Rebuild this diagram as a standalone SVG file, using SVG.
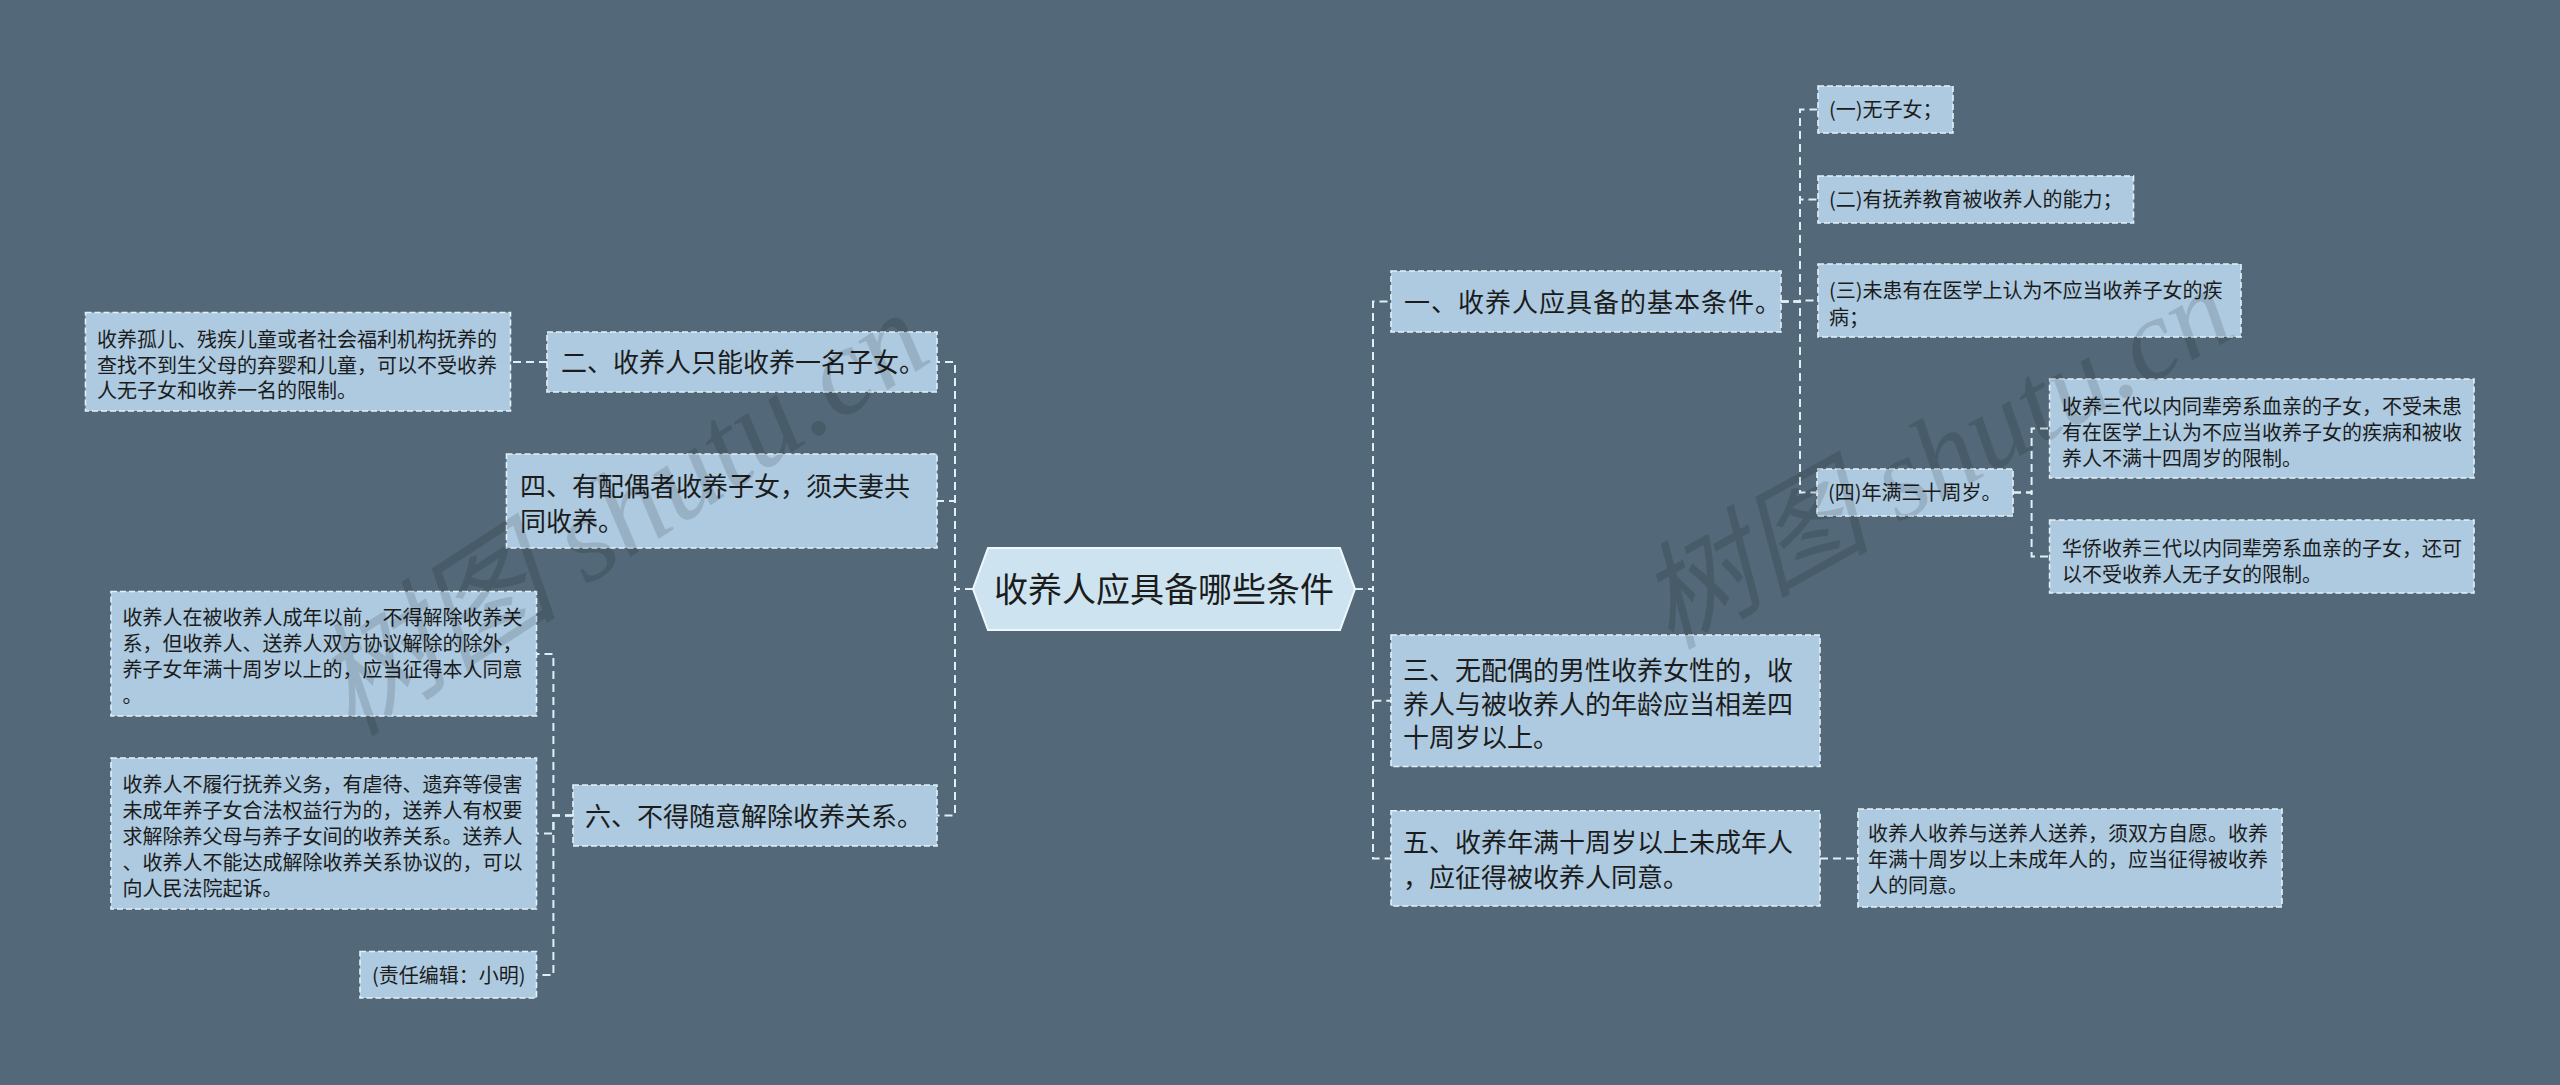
<svg xmlns="http://www.w3.org/2000/svg" width="2560" height="1085" viewBox="0 0 2560 1085">
<style>
.bg{fill:#536979}
.node{fill:#adcae0;stroke:#e4f1f8;stroke-width:1.6;stroke-dasharray:6 3}
.hex{fill:#cde4f0;stroke:#eef7fb;stroke-width:2}
.t{font-family:"Noto Sans CJK SC","Noto Sans",sans-serif;fill:#1c1c1c}
.t26{font-size:26px}
.t20{font-size:20px}
.t34{font-size:34px}
.conn path{fill:none;stroke:#e2eff6;stroke-width:2;stroke-dasharray:8 5}
.wm{font-family:"Liberation Serif","Noto Sans CJK SC",serif;font-style:italic;fill:#000;opacity:0.12}
</style>
<rect class="bg" x="0" y="0" width="2560" height="1085"/>

<g id="connectors" class="conn">
<path d="M973,589 H955 V362 H937"/>
<path d="M973,589 H955 V501 H937"/>
<path d="M973,589 H955 V815.5 H937"/>
<path d="M547,362 H510.5"/>
<path d="M573,815.5 H553.4 V654 H536.5"/>
<path d="M573,815.5 H553.4 V833.5 H536.5"/>
<path d="M573,815.5 H553.4 V975 H536.5"/>
<path d="M1355,589 H1373 V301.5 H1391"/>
<path d="M1355,589 H1373 V700.7 H1391"/>
<path d="M1355,589 H1373 V858.4 H1391"/>
<path d="M1780.5,301.5 H1800 V109.5 H1818"/>
<path d="M1780.5,301.5 H1800 V199.5 H1818"/>
<path d="M1780.5,301.5 H1800 V300.5 H1818"/>
<path d="M1780.5,301.5 H1800 V492.5 H1817"/>
<path d="M2013,492.5 H2031.6 V428.5 H2049.6"/>
<path d="M2013,492.5 H2031.6 V556.5 H2049.6"/>
<path d="M1820,858.4 H1858"/>
</g>

<g id="center">
<polygon class="hex" points="973,589 988,548 1340,548 1355,589 1340,630 988,630"/>
<text class="t t34" x="1164" y="602" text-anchor="middle">收养人应具备哪些条件</text>
</g>

<g id="n2">
<rect class="node" x="547" y="332" width="390" height="60"/>
<text class="t t26" x="561" y="372">二、收养人只能收养一名子女。</text>
</g>
<g id="n2-leaf">
<rect class="node" x="85.5" y="312.5" width="425" height="98.5"/>
<text class="t t20" x="97"><tspan x="97" y="346.5">收养孤儿、残疾儿童或者社会福利机构抚养的</tspan><tspan x="97" y="372.5">查找不到生父母的弃婴和儿童，可以不受收养</tspan><tspan x="97" y="397.5">人无子女和收养一名的限制。</tspan></text>
</g>
<g id="n4">
<rect class="node" x="506.5" y="454" width="430.5" height="94"/>
<text class="t t26"><tspan x="520" y="496">四、有配偶者收养子女，须夫妻共</tspan><tspan x="520" y="531">同收养。</tspan></text>
</g>
<g id="n6">
<rect class="node" x="573" y="785" width="364" height="61"/>
<text class="t t26" x="585" y="826">六、不得随意解除收养关系。</text>
</g>
<g id="n6-leaf1">
<rect class="node" x="111" y="591.5" width="425.5" height="124.5"/>
<text class="t t20"><tspan x="122.5" y="624.5">收养人在被收养人成年以前，不得解除收养关</tspan><tspan x="122.5" y="650.5">系，但收养人、送养人双方协议解除的除外，</tspan><tspan x="122.5" y="676.5">养子女年满十周岁以上的，应当征得本人同意</tspan><tspan x="122.5" y="702.5">。</tspan></text>
</g>
<g id="n6-leaf2">
<rect class="node" x="111" y="758" width="425.5" height="151"/>
<text class="t t20"><tspan x="122.5" y="791.5">收养人不履行抚养义务，有虐待、遗弃等侵害</tspan><tspan x="122.5" y="817.5">未成年养子女合法权益行为的，送养人有权要</tspan><tspan x="122.5" y="843.5">求解除养父母与养子女间的收养关系。送养人</tspan><tspan x="122.5" y="869.5">、收养人不能达成解除收养关系协议的，可以</tspan><tspan x="122.5" y="895.5">向人民法院起诉。</tspan></text>
</g>
<g id="n6-leaf3">
<rect class="node" x="360" y="951.5" width="176.5" height="46.5"/>
<text class="t t20" x="372" y="983">(责任编辑：小明)</text>
</g>

<g id="n1">
<rect class="node" x="1391" y="271" width="390" height="61"/>
<text class="t t26" x="1404" y="311.5" letter-spacing="1">一、收养人应具备的基本条件。</text>
</g>
<g id="n1-c1">
<rect class="node" x="1818" y="86" width="135" height="47"/>
<text class="t t20" x="1829" y="117">(一)无子女；</text>
</g>
<g id="n1-c2">
<rect class="node" x="1818" y="176" width="315.5" height="47"/>
<text class="t t20" x="1829" y="207">(二)有抚养教育被收养人的能力；</text>
</g>
<g id="n1-c3">
<rect class="node" x="1818" y="264" width="423" height="73"/>
<text class="t t20"><tspan x="1829" y="298">(三)未患有在医学上认为不应当收养子女的疾</tspan><tspan x="1829" y="324.5">病；</tspan></text>
</g>
<g id="n1-c4">
<rect class="node" x="1817" y="469" width="196" height="47"/>
<text class="t t20" x="1828" y="500">(四)年满三十周岁。</text>
</g>
<g id="n1-c4-d1">
<rect class="node" x="2049.6" y="379" width="424.4" height="99"/>
<text class="t t20"><tspan x="2062" y="414">收养三代以内同辈旁系血亲的子女，不受未患</tspan><tspan x="2062" y="440">有在医学上认为不应当收养子女的疾病和被收</tspan><tspan x="2062" y="466">养人不满十四周岁的限制。</tspan></text>
</g>
<g id="n1-c4-d2">
<rect class="node" x="2049.6" y="520" width="424.4" height="73"/>
<text class="t t20"><tspan x="2062" y="555.5">华侨收养三代以内同辈旁系血亲的子女，还可</tspan><tspan x="2062" y="581.5">以不受收养人无子女的限制。</tspan></text>
</g>
<g id="n3">
<rect class="node" x="1391" y="635" width="429" height="131.5"/>
<text class="t t26"><tspan x="1403" y="680">三、无配偶的男性收养女性的，收</tspan><tspan x="1403" y="713.5">养人与被收养人的年龄应当相差四</tspan><tspan x="1403" y="747">十周岁以上。</tspan></text>
</g>
<g id="n5">
<rect class="node" x="1391" y="810.7" width="429" height="95.3"/>
<text class="t t26"><tspan x="1403" y="851.5">五、收养年满十周岁以上未成年人</tspan><tspan x="1403" y="886.5">，应征得被收养人同意。</tspan></text>
</g>
<g id="n5-leaf">
<rect class="node" x="1858" y="809" width="424" height="98"/>
<text class="t t20"><tspan x="1868" y="840.5">收养人收养与送养人送养，须双方自愿。收养</tspan><tspan x="1868" y="866.5">年满十周岁以上未成年人的，应当征得被收养</tspan><tspan x="1868" y="892.5">人的同意。</tspan></text>
</g>

<g id="watermark">
<text class="wm" font-size="124" x="0" y="0" transform="translate(352,738) rotate(-33)">树图 shutu.cn</text>
<text class="wm" font-size="116" x="0" y="0" transform="translate(1670,650) rotate(-29)">树图 shutu.cn</text>
</g>
</svg>
